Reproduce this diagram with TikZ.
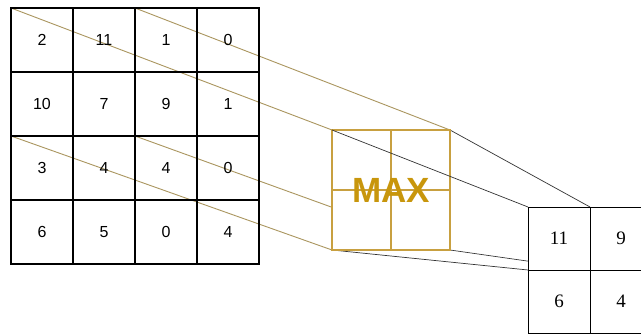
\documentclass[tikz,border=0pt]{standalone}
\usepackage{fontspec}
\usepackage{xcolor}
\usepackage{tikz}
\usetikzlibrary{positioning,backgrounds}
\newfontfamily\cellfont{Liberation Sans}
\newfontfamily\outfont{Liberation Serif}
\definecolor{poolgold}{RGB}{200,160,64}
\definecolor{maxgold}{RGB}{200,150,12}
\definecolor{linkgold}{RGB}{170,150,95}

\begin{document}
\begin{tikzpicture}[
    x=1pt,y=-1pt,
    node distance=0pt,
    cell/.style={rectangle,draw,line width=1.5pt,minimum width=62pt,minimum height=64pt,
                 outer sep=0pt,inner sep=0pt,font=\cellfont\fontsize{16}{16}\selectfont},
    outcell/.style={rectangle,draw,fill=white,line width=0.8pt,minimum width=62pt,minimum height=63pt,
                    outer sep=0pt,inner sep=0pt,font=\outfont\fontsize{19}{19}\selectfont},
    pool/.style={rectangle,draw=poolgold,fill=white,line width=2pt,minimum width=118pt,
                 minimum height=120pt,outer sep=0pt},
    link/.style={linkgold,line width=0.9pt},
    outlink/.style={black!80,line width=0.7pt}
]
\useasboundingbox (0,0) rectangle (641,334);

% input feature map
\node[cell] at (42,40) (c11) {2};
\node[cell,right=of c11] (c12) {11};
\node[cell,right=of c12] (c13) {1};
\node[cell,right=of c13] (c14) {0};
\node[cell,below=of c11] (c21) {10};
\node[cell,right=of c21] (c22) {7};
\node[cell,right=of c22] (c23) {9};
\node[cell,right=of c23] (c24) {1};
\node[cell,below=of c21] (c31) {3};
\node[cell,right=of c31] (c32) {4};
\node[cell,right=of c32] (c33) {4};
\node[cell,right=of c33] (c34) {0};
\node[cell,below=of c31] (c41) {6};
\node[cell,right=of c41] (c42) {5};
\node[cell,right=of c42] (c43) {0};
\node[cell,right=of c43] (c44) {4};

% pooling window
\node[pool] at (391,190) (win) {};
\draw[poolgold,line width=2pt] (win.north) -- (win.south) (win.west) -- (win.east);
\node[text=maxgold,font=\cellfont\bfseries\fontsize{35}{35}\selectfont] at (win.center) (maxlbl) {MAX};

% pooled output
\node[outcell] at (559,238.5) (o11) {11};
\node[outcell,right=of o11] (o12) {9};
\node[outcell,below=of o11] (o21) {6};
\node[outcell,right=of o21] (o22) {4};

% this one crosses the window
\draw[outlink] (win.north west) -- (o11.north west);

\begin{scope}[on background layer]
\fill[white] (0,0) rectangle (641,334);
\draw[link] (c11.north west) -- (win.north west);
\draw[link] (c13.north west) -- (win.north east);
\draw[link] (c31.north west) -- (win.south west);
\draw[link] (c33.north west) -- (win.south east);
\draw[outlink] (win.north east) -- (o11.north east);
\draw[outlink] (win.south west) -- (o11.south west);
\draw[outlink] (win.south east) -- (o11.south east);
\end{scope}
\end{tikzpicture}
\end{document}
